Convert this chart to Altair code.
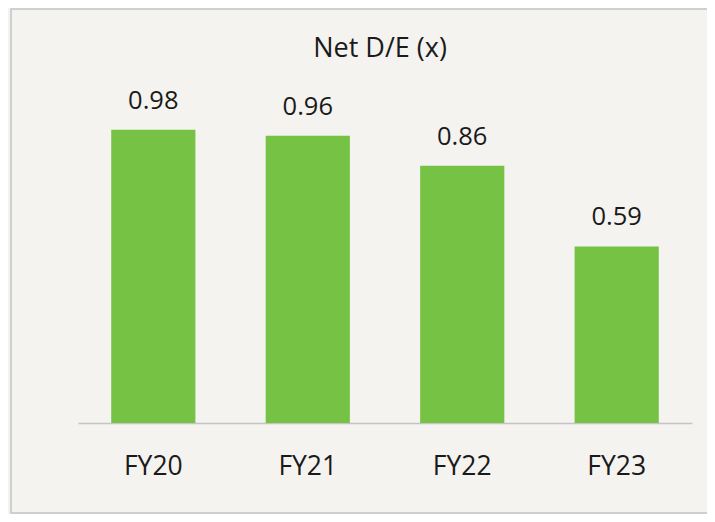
import altair as alt
import pandas as pd

years = ["FY20", "FY21", "FY22", "FY23"]
net_de = [0.98, 0.96, 0.86, 0.59]
labels = ["0.98", "0.96", "0.86", "0.59"]
chart_title = ["Net D/E (x)"]

df = pd.DataFrame({"year": years, "value": net_de, "label": labels})
tdf = pd.DataFrame({"t": chart_title})

FONT = "Open Sans"
INK = "#1a1a1a"

base = alt.Chart(df)

x = alt.X("year:N", sort=years, title=None,
          scale=alt.Scale(paddingInner=0.455, paddingOuter=0.215),
          axis=alt.Axis(labelAngle=0, ticks=False, domainColor="#c4c4c4", domainWidth=1.5,
                        labelFont=FONT, labelFontSize=26.5, labelColor=INK,
                        labelPadding=51, labelBaseline="alphabetic", grid=False))
y = alt.Y("value:Q", scale=alt.Scale(domain=[0, 1.2], nice=False), axis=None, title=None)

border = alt.Chart(tdf).mark_rect(fill="transparent", stroke="#c4c4c4", strokeWidth=1.5).encode(
    x=alt.value(-67), x2=alt.value(720), y=alt.value(-55), y2=alt.value(449)
)

bars = base.mark_bar(color="#76C244").encode(x=x, y=y)

text = base.mark_text(font=FONT, fontSize=25.5, color=INK, baseline="alphabetic", dy=-21).encode(
    x=alt.X("year:N", sort=years), y=y, text="label:N"
)

title = alt.Chart(tdf).mark_text(font=FONT, fontSize=27, fontWeight="normal", color=INK,
                                 baseline="alphabetic", align="center").encode(
    x=alt.value(302), y=alt.value(-7), text="t:N"
)

chart = alt.layer(border, bars, text, title).properties(
    width=614, height=359,
    background="#f5f3f0",
    autosize=alt.AutoSizeParams(type="none"),
    padding={"left": 70, "top": 56, "right": 15, "bottom": 91},
).configure_view(stroke=None)

chart.save("out.html", embed_options={"renderer": "svg", "actions": False})
